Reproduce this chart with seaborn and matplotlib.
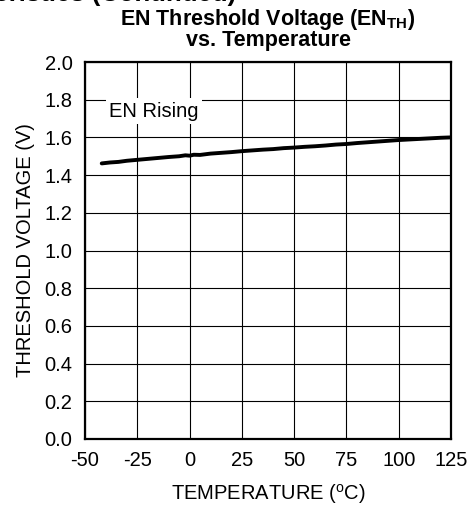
import matplotlib
matplotlib.use("Agg")
import matplotlib.pyplot as plt
import seaborn as sns
import pandas as pd

# EN rising threshold vs. junction temperature
temperature_c = [-42, -38, -34, -30, -25, -20, -15, -10, -5, -2, 0, 2, 5, 10, 15, 20,
                 25, 30, 35, 40, 45, 50, 55, 60, 65, 70, 75, 80, 85, 90, 95, 100,
                 105, 110, 115, 120, 125]
threshold_v = [1.462, 1.467, 1.470, 1.476, 1.481, 1.486, 1.491, 1.496, 1.500, 1.505,
               1.503, 1.508, 1.507, 1.514, 1.518, 1.522, 1.527, 1.531, 1.535, 1.538,
               1.543, 1.546, 1.550, 1.553, 1.557, 1.562, 1.565, 1.570, 1.574, 1.578,
               1.582, 1.586, 1.589, 1.592, 1.595, 1.598, 1.600]

x_ticks = [-50, -25, 0, 25, 50, 75, 100, 125]
y_ticks = [0.0, 0.2, 0.4, 0.6, 0.8, 1.0, 1.2, 1.4, 1.6, 1.8, 2.0]

sns.set_theme(style="white")
plt.rcParams["font.family"] = ["Liberation Sans", "DejaVu Sans"]
plt.rcParams["mathtext.fontset"] = "custom"
plt.rcParams["mathtext.rm"] = "Liberation Sans"
plt.rcParams["mathtext.bf"] = "Liberation Sans:bold"
plt.rcParams["mathtext.it"] = "Liberation Sans:italic"

df = pd.DataFrame({"T": temperature_c, "V": threshold_v})

fig = plt.figure(figsize=(4.74, 5.08), dpi=100)
ax = fig.add_axes([85 / 474, 1 - 439 / 508, 366 / 474, 377 / 508])

sns.lineplot(data=df, x="T", y="V", ax=ax, color="black", linewidth=2.8, zorder=3)

ax.set_xlim(-50, 125)
ax.set_ylim(0, 2.0)
ax.set_xticks(x_ticks)
ax.set_yticks(y_ticks)
ax.set_xticklabels([str(t) for t in x_ticks])
ax.set_yticklabels([f"{v:.1f}" for v in y_ticks])
ax.grid(True, color="black", linewidth=0.8)
ax.set_axisbelow(True)
ax.tick_params(axis="both", length=0, labelsize=14.5, colors="black")
ax.tick_params(axis="x", pad=9)
ax.tick_params(axis="y", pad=9)
for s in ax.spines.values():
    s.set_color("black")
    s.set_linewidth(1.6)

ax.set_xlabel("TEMPERATURE ($^{\\rm o}$C)", fontsize=14.5, color="black", labelpad=8)
ax.set_ylabel("THRESHOLD VOLTAGE (V)", fontsize=14.5, color="black", labelpad=7)

ax.text(-17, 1.74, "EN Rising", fontsize=14.5, ha="center", va="center", color="black",
        zorder=4, bbox=dict(facecolor="white", edgecolor="none", pad=2.5))

fig.text(268 / 474, 1 - 29 / 508,
         "EN Threshold Voltage (EN$_{\\bf TH}$)\nvs. Temperature",
         ha="center", va="center", multialignment="center", linespacing=0.92,
         fontsize=15.5, fontweight="bold", color="black")

# section heading running off the top edge
fig.text(236 / 474, 1 - 0.5 / 508, "Typical Performance Characteristics (Continued)",
         ha="right", va="baseline", fontsize=18.5, fontweight="bold", color="black")

fig.savefig("out.png", dpi=100, facecolor="white")
